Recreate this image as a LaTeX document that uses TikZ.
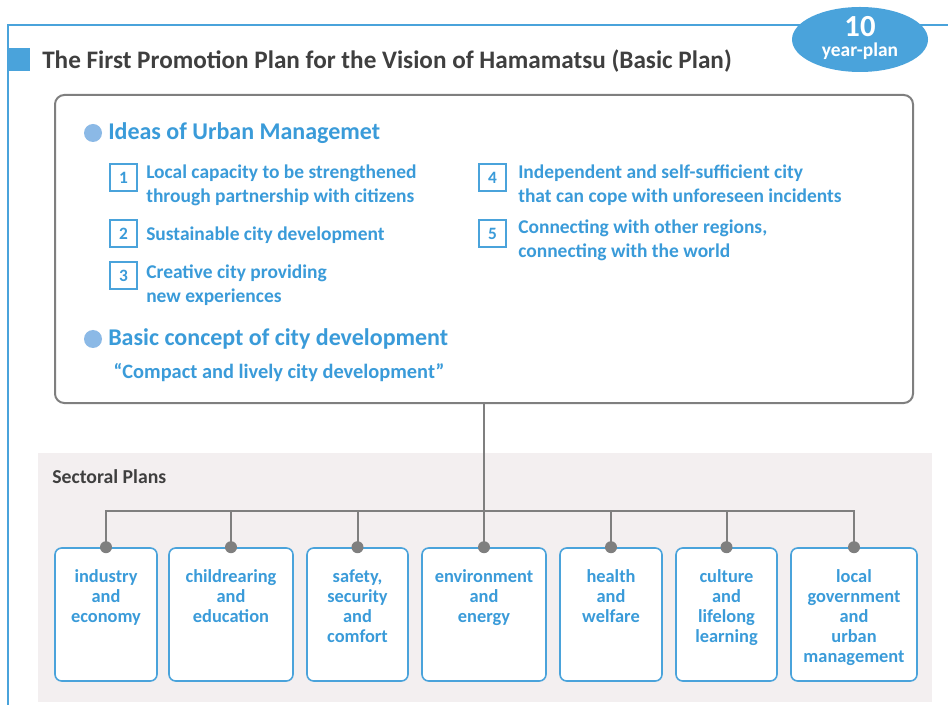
\documentclass[tikz,border=0pt]{standalone}
\usepackage{fontspec}
\setmainfont{Carlito}
\usepackage{xcolor}
\usepackage{tikz}
\usetikzlibrary{positioning,shapes.geometric}

\definecolor{planblue}{HTML}{3A9BD9}
\definecolor{frameblue}{HTML}{4AA3DB}
\definecolor{dotblue}{HTML}{8BB9E6}
\definecolor{linegray}{HTML}{7F7F7F}
\definecolor{panelgray}{HTML}{F3EFF0}
\definecolor{titlegray}{HTML}{3F3F3F}

\tikzset{
  mainbox/.style={draw=linegray,line width=1.5pt,rounded corners=7pt,fill=white,
    minimum width=643.5pt,minimum height=231pt,inner sep=0pt},
  numbox/.style={draw=frameblue,line width=0.8pt,fill=white,minimum size=20.25pt,inner sep=0pt,
    text=planblue,font=\bfseries\fontsize{13}{14}\selectfont},
  itemtext/.style={anchor=base west,align=left,inner sep=0pt,text=planblue,
    font=\bfseries\fontsize{14.6}{18}\selectfont},
  heading/.style={anchor=west,inner sep=0pt,text=planblue,font=\bfseries\fontsize{18}{20}\selectfont},
  sectorbox/.style={draw=frameblue,line width=1.2pt,rounded corners=5pt,fill=white,
    minimum height=99.75pt,inner sep=0pt},
  sectortext/.style={align=center,inner sep=0pt,text=planblue,
    font=\bfseries\fontsize{13.8}{15}\selectfont},
  bus/.style={draw=linegray,line width=1.5pt}
}

\begin{document}
\begin{tikzpicture}[x=0.75pt,y=-0.75pt]
		\useasboundingbox (0,0) rectangle (948,705);
		% outer frame and title
		\draw[frameblue,line width=1.5pt] (8,705) -- (8,25) -- (948,25);
		\fill[frameblue] (8,48) rectangle (30,71);
		\node[anchor=west,inner sep=0pt,text=titlegray,font=\bfseries\fontsize{18.9}{20}\selectfont] (title) at (42,61)
			{The First Promotion Plan for the Vision of Hamamatsu (Basic Plan)};
		\node[ellipse,fill=frameblue,minimum width=102pt,minimum height=48.75pt,inner sep=0pt] (years) at (860,39.5) {};
		\node[inner sep=0pt,text=white,font=\bfseries\fontsize{23}{23}\selectfont] (ten) at (860,26.5) {10};
		\node[inner sep=0pt,text=white,font=\bfseries\fontsize{14.6}{15}\selectfont] (yearplan) at (860,51.5) {year-plan};
		% basic plan
		\node[mainbox] (vision) at (484,249) {};
		\fill[dotblue] (93,133) circle (6.75pt);
		\node[heading] (ideas) at (108,133) {Ideas of Urban Managemet};
		\node[numbox] (n1) at (123.5,177.5) {1};
		\node[numbox] (n2) at (123.5,233.5) {2};
		\node[numbox] (n3) at (123.5,275.5) {3};
		\node[numbox] (n4) at (492.5,177.5) {4};
		\node[numbox] (n5) at (492.5,233.5) {5};
		\node[itemtext] (t1) at (146,203) {Local capacity to be strengthened\\through partnership with citizens};
		\node[itemtext] (t2) at (146,241) {Sustainable city development};
		\node[itemtext] (t3) at (146,303) {Creative city providing\\new experiences};
		\node[itemtext] (t4) at (518,203) {Independent and self-sufficient city\\that can cope with unforeseen incidents};
		\node[itemtext] (t5) at (518,258) {Connecting with other regions,\\connecting with the world};
		\fill[dotblue] (93,339) circle (6.75pt);
		\node[heading] (concept) at (108,339) {Basic concept of city development};
		\node[inner sep=0pt,text=planblue,font=\bfseries\fontsize{15.3}{16}\selectfont] (motto) at (279,373)
			{``Compact and lively city development''};
		% sectoral plans
		\fill[panelgray] (38,453) rectangle (932,702);
		\node[anchor=west,inner sep=0pt,text=titlegray,font=\bfseries\fontsize{14.8}{16}\selectfont] (sectoral) at (52,477) {Sectoral Plans};
		\node[sectorbox,minimum width=76.5pt] (s1) at (106,614.5) {};
		\node[sectorbox,minimum width=93pt] (s2) at (231,614.5) {};
		\node[sectorbox,minimum width=75.75pt] (s3) at (357.5,614.5) {};
		\node[sectorbox,minimum width=93pt] (s4) at (484,614.5) {};
		\node[sectorbox,minimum width=76.5pt] (s5) at (611,614.5) {};
		\node[sectorbox,minimum width=75.75pt] (s6) at (726.5,614.5) {};
		\node[sectorbox,minimum width=94.5pt] (s7) at (854,614.5) {};
		\node[sectortext,below=16.5pt of s1.north] {industry\\and\\economy};
		\node[sectortext,below=16.5pt of s2.north] {childrearing\\and\\education};
		\node[sectortext,below=16.5pt of s3.north] {safety,\\security\\and\\comfort};
		\node[sectortext,below=16.5pt of s4.north] {environment\\and\\energy};
		\node[sectortext,below=16.5pt of s5.north] {health\\and\\welfare};
		\node[sectortext,below=16.5pt of s6.north] {culture\\and\\lifelong\\learning};
		\node[sectortext,below=16.5pt of s7.north] {local\\government\\and\\urban\\management};
		% connectors
		\coordinate (hub) at (484,511);
		\draw[bus] (vision.south) -- (s4.north);
		\draw[bus] (s1.north) -- (s1.north |- hub) -- (s7.north |- hub) -- (s7.north);
		\foreach \s in {s2,s3,s5,s6}
			\draw[bus] (\s.north) -- (\s.north |- hub);
		\foreach \s in {s1,s2,s3,s4,s5,s6,s7}
			\fill[linegray] (\s.north) circle (4.5pt);
\end{tikzpicture}
\end{document}
